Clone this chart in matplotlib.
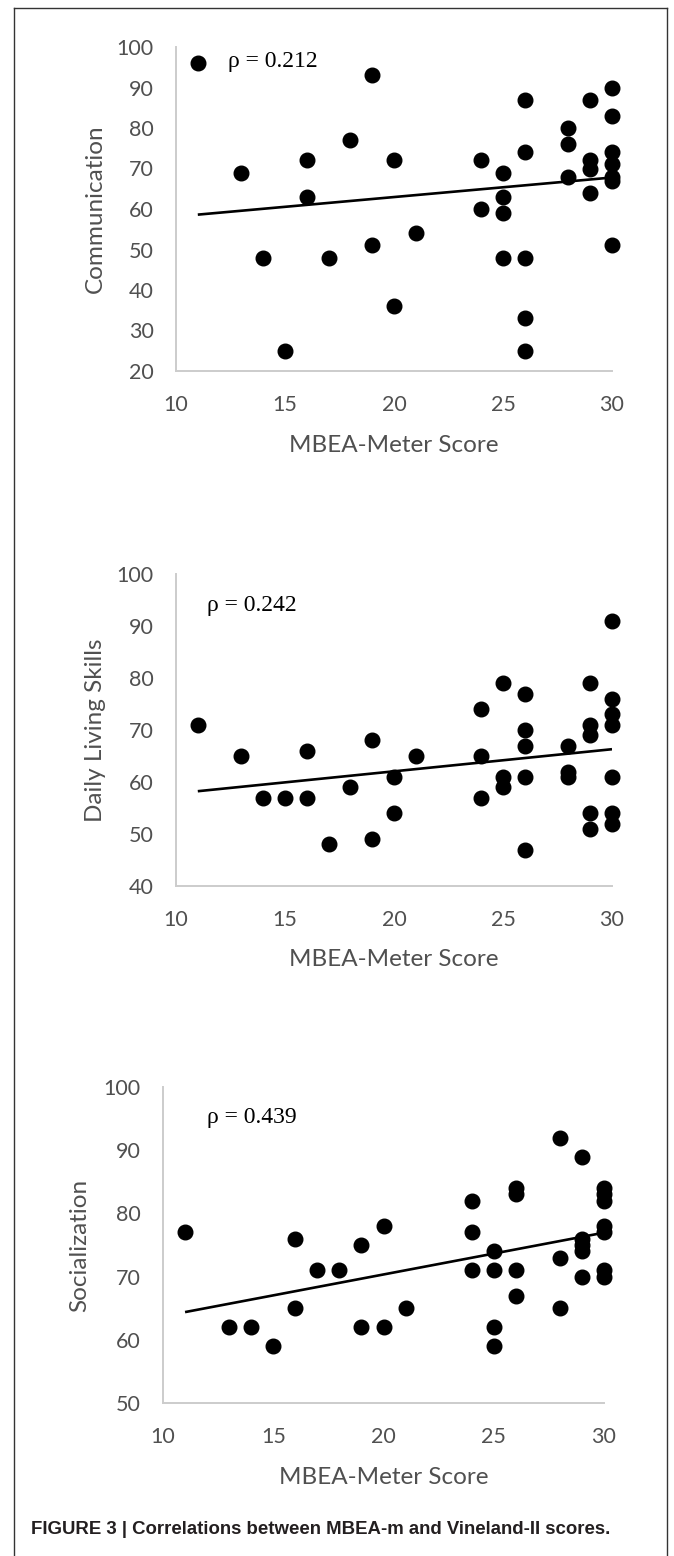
import matplotlib
matplotlib.use("Agg")
import matplotlib.pyplot as plt
import numpy as np
from matplotlib.lines import Line2D

plt.rcParams['font.family'] = ['Lato', 'DejaVu Sans']

# ---- data ----
comm_x = [11, 13, 14, 15, 16, 16, 17, 18, 19, 19, 20, 20, 21, 24, 24, 25, 25, 25, 25,
          26, 26, 26, 26, 26, 28, 28, 28, 29, 29, 29, 29, 30, 30, 30, 30, 30, 30, 30]
comm_y = [96, 69, 48, 25, 72, 63, 48, 77, 93, 51, 72, 36, 54, 72, 60, 69, 63, 59, 48,
          87, 74, 48, 33, 25, 80, 76, 68, 87, 72, 70, 64, 90, 83, 74, 71, 68, 67, 51]

dls_x = [11, 13, 14, 15, 16, 16, 17, 18, 19, 19, 20, 20, 21, 24, 24, 24, 25, 25, 25,
         26, 26, 26, 26, 26, 28, 28, 28, 29, 29, 29, 29, 29, 30, 30, 30, 30, 30, 30, 30]
dls_y = [71, 65, 57, 57, 66, 57, 48, 59, 68, 49, 61, 54, 65, 74, 65, 57, 79, 61, 59,
         77, 70, 67, 61, 47, 67, 62, 61, 79, 71, 69, 54, 51, 91, 76, 73, 71, 61, 54, 52]

soc_x = [11, 13, 14, 15, 16, 16, 17, 18, 19, 19, 20, 20, 21, 24, 24, 24, 25, 25, 25, 25,
         26, 26, 26, 26, 28, 28, 28, 29, 29, 29, 29, 29, 30, 30, 30, 30, 30, 30, 30]
soc_y = [77, 62, 62, 59, 76, 65, 71, 71, 75, 62, 78, 62, 65, 82, 77, 71, 74, 71, 62, 59,
         84, 83, 71, 67, 92, 73, 65, 89, 76, 75, 74, 70, 84, 83, 82, 78, 77, 71, 70]

rho_labels = ["ρ = 0.212", "ρ = 0.242", "ρ = 0.439"]
y_labels = ["Communication", "Daily Living Skills", "Socialization"]
x_label = "MBEA-Meter Score"
y_ranges = [(20, 100), (40, 100), (50, 100)]
x_ticks = [10, 15, 20, 25, 30]
caption = "FIGURE 3 | Correlations between MBEA-m and Vineland-II scores."

W, H = 674, 1556
fig = plt.figure(figsize=(W / 100, H / 100), dpi=100)

# axes boxes in pixels: (left, right, top, bottom)
boxes = [(176, 612, 47, 371), (176, 612, 574, 886), (163, 604, 1087, 1403)]
rho_pos = [(228, 61), (207, 605), (207, 1117)]
ylab_x = [95, 95, 80]

datasets = [(comm_x, comm_y), (dls_x, dls_y), (soc_x, soc_y)]
grey = '#505050'
spine_c = '#cccccc'

for i, ((xs, ys), (l, r, t, b)) in enumerate(zip(datasets, boxes)):
    ax = fig.add_axes([l / W, 1 - b / H, (r - l) / W, (b - t) / H])
    ax.set_xlim(10, 30)
    ax.set_ylim(*y_ranges[i])
    ax.set_xticks(x_ticks)
    ax.set_yticks(np.arange(y_ranges[i][0], 101, 10))
    ax.tick_params(length=0, labelsize=15.5, labelcolor=grey)
    ax.tick_params(axis='y', pad=16)
    ax.tick_params(axis='x', pad=17)
    for s in ['top', 'right']:
        ax.spines[s].set_visible(False)
    for s in ['left', 'bottom']:
        ax.spines[s].set_color(spine_c)
        ax.spines[s].set_linewidth(1.4)
    ax.patch.set_alpha(0)

    xs_a = np.array(xs, float)
    ys_a = np.array(ys, float)
    ax.plot(xs_a, ys_a, 'o', color='black', markersize=10.5, clip_on=False, zorder=3)
    k, c = np.polyfit(xs_a, ys_a, 1)
    xl = np.array([xs_a.min(), xs_a.max()])
    ax.plot(xl, k * xl + c, color='black', linewidth=1.9, zorder=2, solid_capstyle='butt')

    # rho annotation
    px, py = rho_pos[i]
    fig.text(px / W, 1 - py / H, rho_labels[i], fontsize=17, family='Liberation Serif',
             ha='left', va='center', color='black')

    ax.set_xlabel(x_label, fontsize=17.5, color=grey, va='center')
    ax.xaxis.set_label_coords(0.5, -74 / (b - t))
    ax.set_ylabel(y_labels[i], fontsize=17.5, color=grey, va='center', ha='center')
    ax.yaxis.set_label_coords((ylab_x[i] - l) / (r - l), 0.5)

# frame
fig.add_artist(Line2D([14 / W, 14 / W], [0, 1 - 8 / H], color='#333333', linewidth=1.0))
fig.add_artist(Line2D([14 / W, 667 / W], [1 - 8 / H, 1 - 8 / H], color='#333333', linewidth=1.0))
fig.add_artist(Line2D([667 / W, 667 / W], [0, 1 - 8 / H], color='#333333', linewidth=1.0))

fig.text(31 / W, 1 - 1530 / H, caption, fontsize=13.4, fontweight='bold',
         family='Liberation Sans', ha='left', va='center', color='#231f20')

fig.savefig('out.png', dpi=100)
